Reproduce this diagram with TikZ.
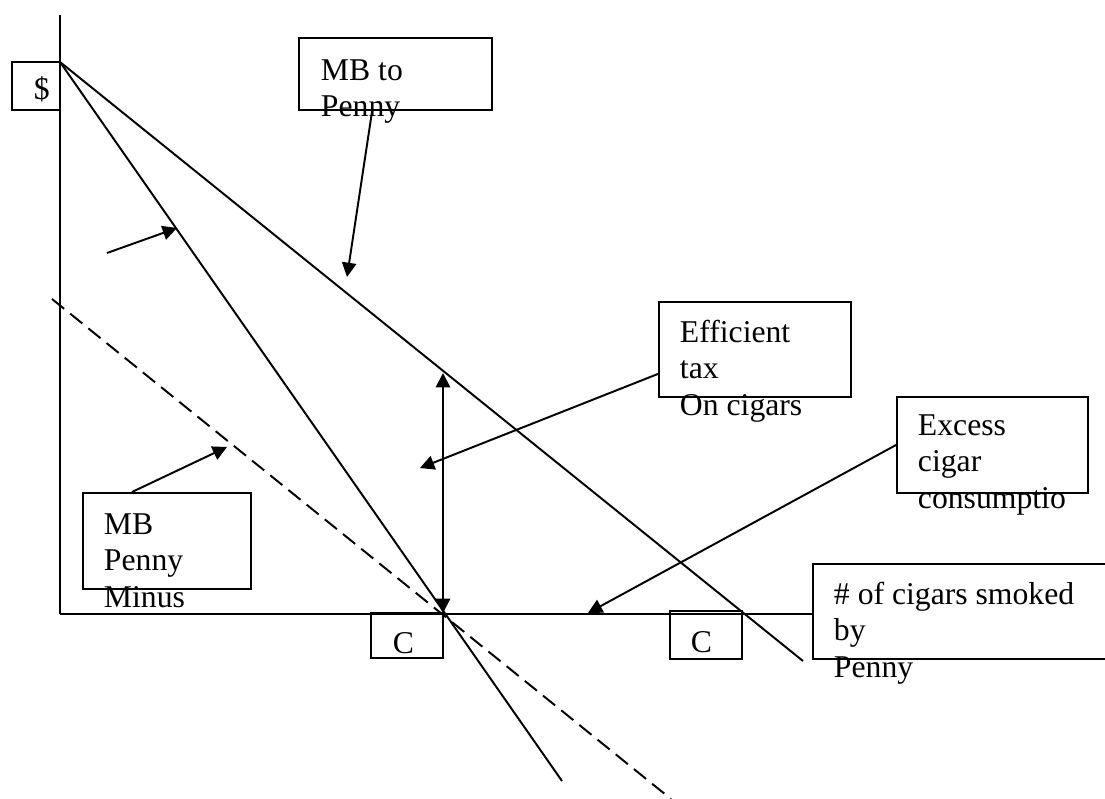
\documentclass[tikz,border=0pt]{standalone}
\usepackage{fontspec}
\setmainfont{Liberation Serif}
\usetikzlibrary{arrows.meta, fit}

\begin{document}
\begin{tikzpicture}[
    x=0.385pt, y=-0.385pt, line width=0.75pt,
    kotak/.style={draw, fill=white, inner sep=0pt, line width=0.75pt},
    tulisan/.style={font=\fontsize{12.2}{13.9}\selectfont, align=left,
                    inner sep=0pt, anchor=base west},
    panah/.style={-{Triangle[length=5.5pt, width=5.5pt]}},
    panahdua/.style={{Triangle[length=5.5pt, width=5.5pt]}-{Triangle[length=5.5pt, width=5.5pt]}}
  ]
    \useasboundingbox (0,0) rectangle (1105,799);

    % sumbu dan kurva
    \coordinate (origin) at (60,614);
    \coordinate (ytop) at (60,15);
    \coordinate (peak) at (60,62);
    \coordinate (mbend) at (803,661);
    \coordinate (steepend) at (562,781);
    \coordinate (dashstart) at (52,299);
    \coordinate (dashend) at (671,799);

    \draw (ytop) -- (origin);
    \draw (peak) -- (mbend);
    \draw (peak) -- (steepend);
    \draw[dash pattern=on 6pt off 3pt] (dashstart) -- (dashend);

    % kotak
    \node[kotak, fit={(12,62) (60,110)}] (dollar) {};
    \node[kotak, fit={(299,38) (492,110)}] (mbbox) {};
    \node[kotak, fit={(659,302) (851,397)}] (effbox) {};
    \node[kotak, fit={(897,397) (1088,493)}] (excbox) {};
    \node[kotak, fit={(813,564) (1115,659)}] (cigbox) {};
    \node[kotak, fit={(83,493) (251,589)}] (minusbox) {};
    \node[kotak, fit={(371,613) (443,658)}] (cbox1) {};
    \node[kotak, fit={(670,611) (742,659)}] (cbox2) {};

    \draw (origin) -- (origin -| cigbox.west);

    % teks (titik = garis dasar baris terakhir)
    \node[tulisan] (dollartxt) at (33,100) {\$};
    \node[tulisan] (mbtxt) at (320,117) {MB to\\Penny};
    \node[tulisan] (efftxt) at (679,415) {Efficient\\tax\\On cigars};
    \node[tulisan] (exctxt) at (917,508) {Excess\\cigar\\consumptio};
    \node[tulisan] (cigtxt) at (833,677) {\# of cigars smoked\\by\\Penny};
    \node[tulisan] (minustxt) at (103,607) {MB\\Penny\\Minus};
    \node[tulisan] (c1txt) at (392,653) {C};
    \node[tulisan] (c2txt) at (690,652) {C};

    % panah
    \coordinate (mbtip) at (347,277);
    \coordinate (efftip) at (420,468);
    \coordinate (exctip) at (588,613);
    \coordinate (minustip) at (227,447);
    \coordinate (steeptail) at (107,253);
    \coordinate (steeptip) at (177,228);
    \coordinate (taxlow) at (443,613);
    \coordinate (taxhigh) at (443,373);

    \draw[panah] ([xshift=-9pt]mbbox.south) -- (mbtip);
    \draw[panah] ([yshift=-9.4pt]effbox.west) -- (efftip);
    \draw[panah] (excbox.west) -- (exctip);
    \draw[panah] ([xshift=-13.5pt]minusbox.north) -- (minustip);
    \draw[panah] (steeptail) -- (steeptip);
    \draw[panahdua] (taxlow) -- (taxhigh);
  \end{tikzpicture}
\end{document}
